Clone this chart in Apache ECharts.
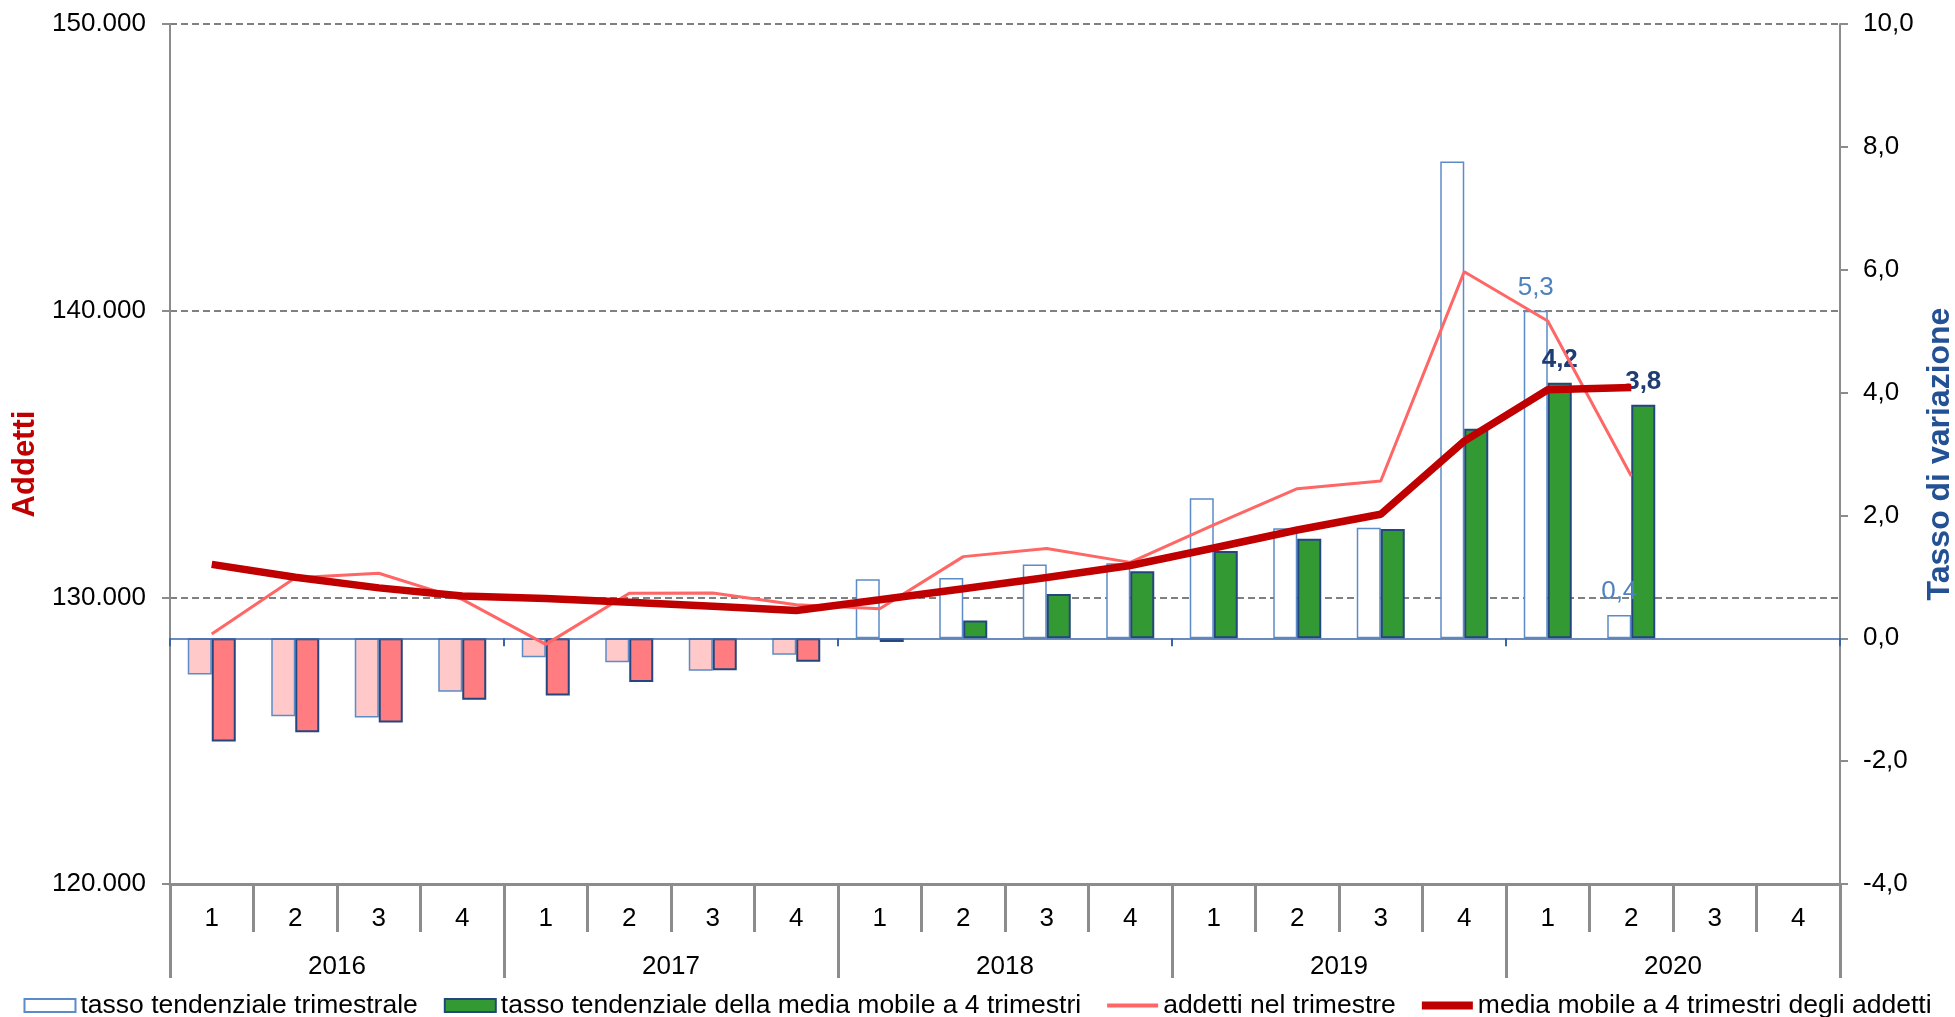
<!DOCTYPE html>
<html>
<head>
<meta charset="utf-8">
<script src="https://cdn.jsdelivr.net/npm/echarts@6/dist/echarts.min.js"></script>
<style>
  html, body { margin: 0; padding: 0; background: #fff; }
  #chart { width: 1955px; height: 1017px; }
</style>
</head>
<body>
<div id="chart"></div>
<script>
// categorie
const trimestri = ['1', '2', '3', '4', '1', '2', '3', '4', '1', '2', '3', '4', '1', '2', '3', '4', '1', '2', '3', '4']
const anni = ['2016', '2017', '2018', '2019', '2020']

// tasso tendenziale trimestrale (asse dx)
const tassoTrimestrale = [-0.59, -1.27, -1.29, -0.87, -0.31, -0.39, -0.53, -0.27, 0.96, 0.98, 1.20, 1.22, 2.28, 1.79, 1.80, 7.76, 5.33, 0.38, null, null]
// tasso tendenziale della media mobile a 4 trimestri (asse dx)
const tassoMediaMobile = [-1.68, -1.53, -1.37, -1.00, -0.93, -0.71, -0.52, -0.38, -0.06, 0.29, 0.72, 1.09, 1.42, 1.62, 1.78, 3.41, 4.16, 3.80, null, null]
// addetti nel trimestre (asse sx)
const addettiTrimestre = [128720, 130680, 130840, 129930, 128360, 130140, 130150, 129740, 129600, 131420, 131700, 131220, 132530, 133790, 134060, 141360, 139640, 134230, null, null]
// media mobile a 4 trimestri degli addetti (asse sx)
const mediaMobileAddetti = [131150, 130700, 130330, 130050, 129960, 129830, 129690, 129540, 129915, 130300, 130690, 131110, 131720, 132350, 132900, 135450, 137240, 137320, null, null]

const fmtMigliaia = (v) => String(v).replace(/\B(?=(\d{3})+(?!\d))/g, '.')
const fmtDecimale = (v) => Number(v).toFixed(1).replace('.', ',')
const FONT = 'Liberation Sans, Arial, sans-serif'
const GRIGIO = '#8C8C8C'

// ultimi due valori disponibili hanno l'etichetta
const lastIdx = (arr) => arr.reduce((acc, v, i) => (v != null ? i : acc), -1)

const buildBarData = (arr, negColor, labelStyle) => {
  const last = lastIdx(arr)
  return arr.map((v, i) => {
    if (v == null) return null
    const item = { value: v }
    if (v < 0) item.itemStyle = { color: negColor }
    if (i >= last - 1) item.label = Object.assign({ show: true }, labelStyle)
    return item
  })
}

const chart = echarts.init(document.getElementById('chart'))

chart.setOption({
  animation: false,
  textStyle: { fontFamily: FONT },
  grid: { left: 170, right: 115, top: 24, bottom: 133, outerBoundsMode: 'none', containLabel: false },
  legend: {
    top: 987,
    left: 'center',
    itemWidth: 51,
    itemHeight: 13,
    itemGap: 26,
    textStyle: { fontSize: 26.5, color: '#000', fontFamily: FONT },
    data: [
      { name: 'tasso tendenziale trimestrale', icon: 'rect' },
      { name: 'tasso tendenziale della media mobile a 4 trimestri', icon: 'rect' },
      { name: 'addetti nel trimestre', icon: 'path://M0,0L51,0L51,4L0,4Z', itemStyle: { color: '#FF6666', borderWidth: 0 } },
      { name: 'media mobile a 4 trimestri degli addetti', icon: 'path://M0,0L51,0L51,8L0,8Z', itemStyle: { color: '#C00000', borderWidth: 0 } }
    ]
  },
  xAxis: [
    {
      type: 'category',
      data: trimestri,
      position: 'bottom',
      axisLine: { show: true, onZero: false, lineStyle: { color: GRIGIO, width: 3 } },
      axisTick: { show: true, interval: 0, length: 48, lineStyle: { color: GRIGIO, width: 3 } },
      axisLabel: { interval: 0, margin: 22, fontSize: 26, color: '#000' },
      splitLine: { show: false }
    },
    {
      type: 'category',
      data: anni,
      position: 'bottom',
      axisLine: { show: false, onZero: false },
      axisTick: { show: true, interval: 0, length: 94, lineStyle: { color: GRIGIO, width: 3 } },
      axisLabel: { interval: 0, margin: 70, fontSize: 26, color: '#000' },
      splitLine: { show: false }
    },
    {
      // linea dello zero dell'asse dei tassi
      type: 'category',
      data: trimestri,
      position: 'bottom',
      z: 5,
      axisLine: { show: true, onZero: true, onZeroAxisIndex: 1, lineStyle: { color: '#3A65A8', width: 1.5 } },
      axisTick: { show: true, interval: (i) => i % 4 === 0, length: 8, lineStyle: { color: '#3A65A8', width: 2 } },
      axisLabel: { show: false },
      splitLine: { show: false }
    }
  ],
  yAxis: [
    {
      type: 'value',
      position: 'left',
      min: 120000,
      max: 150000,
      interval: 10000,
      name: 'Addetti',
      nameLocation: 'middle',
      nameRotate: 90,
      nameGap: 124,
      nameTextStyle: { fontSize: 31, fontWeight: 'bold', color: '#C00000', fontFamily: FONT, padding: [0, 20, 0, 0] },
      axisLine: { show: true, lineStyle: { color: GRIGIO, width: 2 } },
      axisTick: { show: true, length: 8, lineStyle: { color: GRIGIO, width: 2 } },
      axisLabel: { margin: 24, fontSize: 26, color: '#000', formatter: fmtMigliaia },
      splitLine: { show: true, lineStyle: { color: '#808080', width: 2, type: [7, 4] } }
    },
    {
      type: 'value',
      position: 'right',
      min: -4,
      max: 10,
      interval: 2,
      name: 'Tasso di variazione',
      nameLocation: 'middle',
      nameRotate: 90,
      nameGap: 83,
      nameTextStyle: { fontSize: 32, fontWeight: 'bold', color: '#245193', fontFamily: FONT },
      axisLine: { show: true, lineStyle: { color: GRIGIO, width: 2 } },
      axisTick: { show: true, length: 8, lineStyle: { color: GRIGIO, width: 2 } },
      axisLabel: { margin: 23, fontSize: 26, color: '#000', formatter: fmtDecimale },
      splitLine: { show: false }
    }
  ],
  series: [
    {
      name: 'tasso tendenziale trimestrale',
      type: 'bar',
      xAxisIndex: 0,
      yAxisIndex: 1,
      barWidth: 24,
      barGap: '0%',
      itemStyle: { color: '#FFFFFF', borderColor: '#5B8CC8', borderWidth: 1.5 },
      data: buildBarData(tassoTrimestrale, '#FFC9C9', {
        position: 'top', distance: 10, fontSize: 26, color: '#4F81BD',
        formatter: (p) => fmtDecimale(p.value)
      })
    },
    {
      name: 'tasso tendenziale della media mobile a 4 trimestri',
      type: 'bar',
      xAxisIndex: 0,
      yAxisIndex: 1,
      barWidth: 24,
      barGap: '0%',
      itemStyle: { color: '#339933', borderColor: '#24467E', borderWidth: 2 },
      data: buildBarData(tassoMediaMobile, '#FF7C80', {
        position: 'top', distance: 10, fontSize: 26, fontWeight: 'bold', color: '#1F3C73',
        formatter: (p) => fmtDecimale(p.value)
      })
    },
    {
      name: 'addetti nel trimestre',
      type: 'line',
      xAxisIndex: 0,
      yAxisIndex: 0,
      z: 6,
      symbol: 'none',
      lineStyle: { color: '#FF6666', width: 3 },
      itemStyle: { color: '#FF6666' },
      data: addettiTrimestre
    },
    {
      name: 'media mobile a 4 trimestri degli addetti',
      type: 'line',
      xAxisIndex: 0,
      yAxisIndex: 0,
      z: 7,
      symbol: 'none',
      lineStyle: { color: '#C00000', width: 7.5 },
      itemStyle: { color: '#C00000' },
      data: mediaMobileAddetti
    }
  ]
})
</script>
</body>
</html>
